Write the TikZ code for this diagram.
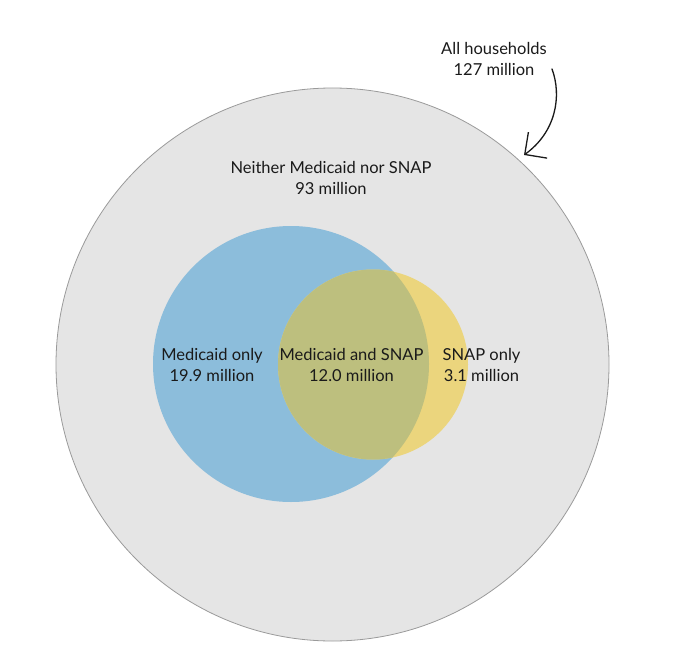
\documentclass[tikz,border=0pt]{standalone}
\usepackage{fontspec}
\setmainfont{Lato}
\usetikzlibrary{arrows.meta}
\definecolor{allgray}{HTML}{E5E5E5}
\definecolor{rimgray}{HTML}{9A9A9A}
\definecolor{medblue}{HTML}{8CBDDB}
\definecolor{snapyel}{HTML}{EBD57D}
\definecolor{bothol}{HTML}{BDBF7E}
\definecolor{inktext}{HTML}{1A1A1A}
\tikzset{lbl/.style={align=center, text=inktext, font=\fontsize{16.5}{21}\selectfont, inner sep=0pt}}
\begin{document}
\begin{tikzpicture}[x=1pt, y=-1pt, line cap=round, line join=round]
	\useasboundingbox (0,0) rectangle (679,663);
	\fill[allgray] (332.5,364.5) circle[radius=276.5pt];
	\draw[rimgray, line width=0.8pt] (332.5,364.5) circle[radius=276.5pt];
	\fill[medblue] (291,364) circle[radius=138pt];
	\fill[snapyel] (373,364.5) circle[radius=95pt];
	\begin{scope}
		\clip (291,364) circle[radius=138pt];
		\fill[bothol] (373,364.5) circle[radius=95pt];
	\end{scope}
	\foreach \nm/\px/\py/\txt in {all/494/59/All households\\127 million, neither/331/177.5/Neither Medicaid nor SNAP\\93 million, medonly/212/365/Medicaid only\\19.9 million, both/351.5/365/Medicaid and SNAP\\12.0 million, snaponly/481.5/365/SNAP only\\3.1 million}
	\node[lbl] (\nm) at (\px,\py) {\txt};
	\coordinate (arrS) at (552,69);
	\coordinate (arrE) at (524,155);
	\draw[inktext, line width=1.3pt, -{Straight Barb[length=16pt,width=32pt]}] (arrS) .. controls (562,96) and (556,132) .. (arrE);
\end{tikzpicture}
\end{document}
